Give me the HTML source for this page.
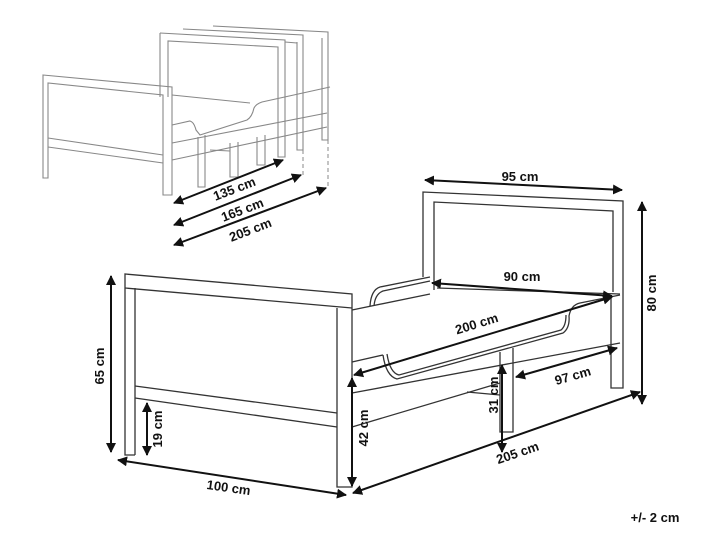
<!DOCTYPE html>
<html><head><meta charset="utf-8"><style>
html,body{margin:0;padding:0;background:#fff;}
svg{display:block}
text{font-family:"Liberation Sans",sans-serif;font-weight:bold;font-size:13px;fill:#111;text-anchor:middle}
.l{fill:none;stroke:#333;stroke-width:1.3}
.g{fill:none;stroke:#888;stroke-width:1.1}
.a{stroke:#111;stroke-width:2;fill:none;marker-start:url(#ah);marker-end:url(#ah)}
</style></head><body>
<svg width="720" height="540" viewBox="0 0 720 540" xmlns="http://www.w3.org/2000/svg">
<defs><marker id="ah" viewBox="0 0 10 10" refX="9" refY="5" markerWidth="5" markerHeight="5" orient="auto-start-reverse"><path d="M0,0L10,5L0,10z" fill="#111"/></marker></defs>

<!-- Small top drawing -->
<g class="g">
 <path d="M213,26 L328,32 L328,140 L322,140 L322,38"/>
 <path d="M183,29 L303,35 L303,150 L297,150 L297,42"/>
 <path d="M285,42 L297,43"/>
 <path d="M160,33 L285,40 L285,157 L278,157 L278,47 L168,41 L168,97"/>
 <path d="M160,33 L160,97"/>
 <path d="M172,125 L190,121 Q194,122 196,130 L200,135 L247,120 Q252,117 254,108 Q256,104 262,102 L330,87"/>
 <path d="M172,95 L250,103"/>
 <path d="M172,143 L327,113"/>
 <path d="M172,160 L327,127"/>
 <path d="M198,137 L198,187 L205,187 L205,135"/>
 <path d="M230,143 L230,177 L238,177 L238,142"/>
 <path d="M257,137 L257,165 L265,165 L265,135"/>
 <path d="M210,150 L230,151"/>
 <path d="M43,75 L172,87 L172,195 L163,195 L163,95 L48,83 L48,178 L43,178 Z"/>
 <path d="M48,138 L163,155 M48,147 L163,163"/>
</g>
<path d="M303,150 L303,175 M328,140 L328,188" stroke="#888" stroke-dasharray="4,3" fill="none"/>
<path class="a" d="M174,203 L283,160"/>
<path class="a" d="M174,225 L301,175"/>
<path class="a" d="M174,245 L326,188"/>
<text transform="translate(236,193) rotate(-21)">135 cm</text>
<text transform="translate(244,214) rotate(-21)">165 cm</text>
<text transform="translate(252,234) rotate(-21)">205 cm</text>

<!-- Main bed -->
<g class="l">
 <path d="M423,277 L423,192 L623,201 L623,388 L611,388 L611,296"/>
 <path d="M434,290 L434,202 L613,211 L613,292"/>
 <path d="M370,306 Q371,290 380,287 L430,277"/>
 <path d="M374,306 Q375,294 383,291 L430,281"/>
 <path d="M352,310 L430,294 M437,288 L620,294"/>
 <path d="M383,355 Q386,376 397,379 L563,333 Q570,328 569,316 Q571,305 580,303 L620,295"/>
 <path d="M387,354 Q390,373 399,375 L561,330 Q566,326 566,315"/>
 <path d="M352,362 L383,355"/>
 <path d="M352,393 L620,343"/>
 <path d="M352,427 L500,383"/>
 <path d="M467,392 L500,395"/>
 <path d="M500,352 L500,432 L513,432 L513,348"/>
 <path d="M135,455 L125,455 L125,274 L352,294 L352,487 L337,487 L337,308"/>
 <path d="M125,288 L352,308"/>
 <path d="M135,288 L135,455"/>
 <path d="M135,386 L337,413 M135,398 L337,427"/>
</g>

<path class="a" d="M425,180 L622,190"/>
<text x="520" y="181">95 cm</text>
<path class="a" d="M642,202 L642,404"/>
<text transform="translate(656,293) rotate(-90)">80 cm</text>
<path class="a" d="M432,283 L612,296"/>
<text x="522" y="281">90 cm</text>
<path class="a" d="M354,375 L612,297"/>
<text transform="translate(478,328) rotate(-17)">200 cm</text>
<path class="a" d="M516,377 L617,348"/>
<text transform="translate(574,380) rotate(-16)">97 cm</text>
<path class="a" d="M502,365 L502,452"/>
<text transform="translate(498,395) rotate(-90)">31 cm</text>
<path class="a" d="M352,378 L352,486"/>
<text transform="translate(368,428) rotate(-90)">42 cm</text>
<path class="a" d="M353,493 L640,392"/>
<text transform="translate(519,457) rotate(-19)">205 cm</text>
<path class="a" d="M118,460 L346,495"/>
<text transform="translate(228,492) rotate(8)">100 cm</text>
<path class="a" d="M111,276 L111,452"/>
<text transform="translate(104,366) rotate(-90)">65 cm</text>
<path class="a" d="M147,403 L147,455"/>
<text transform="translate(162,429) rotate(-90)">19 cm</text>
<text x="655" y="522">+/- 2 cm</text>
</svg>
</body></html>
